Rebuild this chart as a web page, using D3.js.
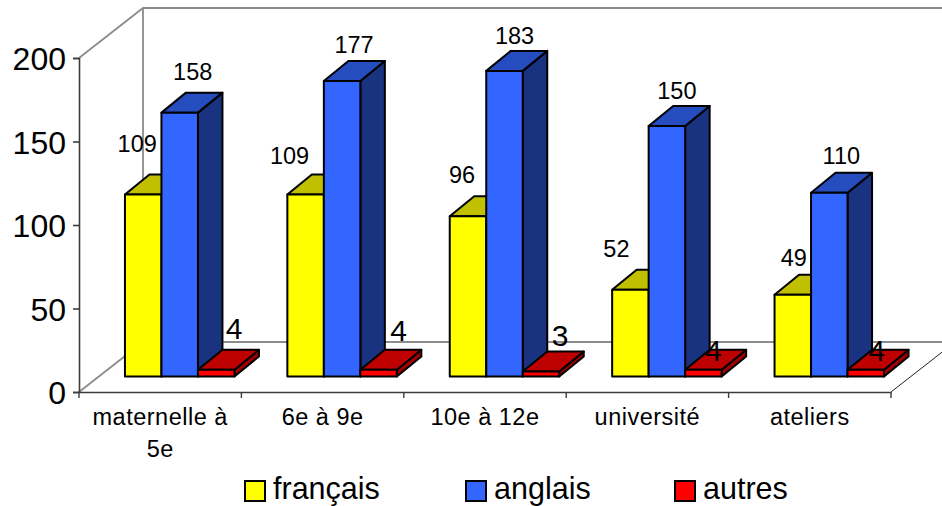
<!DOCTYPE html>
<html>
<head>
<meta charset="utf-8">
<script src="https://cdn.jsdelivr.net/npm/d3@7"></script>
<style>
  html, body { margin: 0; padding: 0; background: #fff; }
  svg { display: block; }
  text { font-family: "Liberation Sans", Arial, sans-serif; fill: #000; }
</style>
</head>
<body>
<svg id="chart" width="942" height="506"></svg>
<script>
var categories = ['maternelle à 5e', '6e à 9e', '10e à 12e', 'université', 'ateliers'];
var seriesNames = ['français', 'anglais', 'autres'];
var francais = [109, 109, 96, 52, 49];
var anglais = [158, 177, 183, 150, 110];
var autres = [4, 4, 3, 4, 4];
var yTicks = [0, 50, 100, 150, 200];

var seriesValues = [francais, anglais, autres];
var faces = [
    { front: '#ffff00', top: '#c0c000', side: '#808000' },
    { front: '#3366ff', top: '#264dbf', side: '#1a3380' },
    { front: '#ff0000', top: '#bf0000', side: '#a00000' }
];

var left = 79, right = 891, baseY = 392, topY = 58;
// oblique projection: back wall offset, and how far the bars sit inside it
var wallDx = 64, wallDy = 50;
var barShiftX = 19.5, barShiftY = 15.5;
var depthX = 24.5, depthY = 20;

var svg = d3.select('#chart');

var x = d3.scaleBand().domain(categories).range([left, right]);
var xSeries = d3.scaleBand().domain(seriesNames).range([0, 109.5]);
var y = d3.scaleLinear().domain([0, 200]).range([baseY, topY]);
var groupOffset = (x.bandwidth() - xSeries.range()[1]) / 2 + barShiftX;

// walls and floor
var walls = svg.append('g').attr('fill', 'none').attr('stroke', '#8c8c8c').attr('stroke-width', 1.8);
walls.append('path').attr('d', d3.line()([
    [left, topY], [left + wallDx, topY - wallDy], [942, topY - wallDy]
]));
walls.append('path').attr('d', d3.line()([
    [left + wallDx, topY - wallDy], [left + wallDx, baseY - wallDy], [942, baseY - wallDy]
]));
walls.append('path').attr('d', d3.line()([
    [left, baseY], [left + wallDx, baseY - wallDy]
]));
svg.append('path')
    .attr('d', d3.line()([[right, baseY], [right + wallDx, baseY - wallDy]]))
    .attr('fill', 'none').attr('stroke', '#222').attr('stroke-width', 1);

// value axis
var yAxis = svg.append('g')
    .attr('transform', 'translate(' + left + ',0)')
    .call(d3.axisLeft(y).tickValues(yTicks).tickSize(6).tickPadding(7).tickFormat(d3.format('d')));
yAxis.selectAll('path, line').attr('stroke', '#3c3c3c').attr('stroke-width', 1.6);
yAxis.selectAll('text').attr('font-size', 32).attr('dy', '0.36em');

// category axis: ticks sit on the band edges, labels on the band centres
var xAxis = svg.append('g')
    .attr('transform', 'translate(0,' + baseY + ')')
    .call(d3.axisBottom(x).tickSize(0).tickPadding(0));
xAxis.select('.domain').attr('stroke', '#3c3c3c').attr('stroke-width', 1.6);
xAxis.selectAll('text').remove();
var edges = categories.map(function(c) { return x(c); }).concat([right]);
xAxis.selectAll('line.edge')
    .data(edges)
    .enter().append('line')
    .attr('class', 'edge')
    .attr('x1', function(d) { return d; })
    .attr('x2', function(d) { return d; })
    .attr('y1', 0).attr('y2', 6)
    .attr('stroke', '#3c3c3c').attr('stroke-width', 1.4);

var catLabels = svg.append('g').attr('text-anchor', 'middle').attr('font-size', 23.5).attr('letter-spacing', 0.5);
categories.forEach(function(c) {
    var cx = x(c) + x.bandwidth() / 2;
    // the first label is too long for its band and wraps
    var lines = c === 'maternelle à 5e' ? ['maternelle à', '5e'] : [c];
    lines.forEach(function(line, i) {
        catLabels.append('text').attr('x', cx).attr('y', 425 + i * 32).text(line);
    });
});

// bars, left to right so nearer faces overlap correctly
var line = d3.line();
var bars = svg.append('g').attr('stroke', '#000').attr('stroke-width', 2).attr('stroke-linejoin', 'round');
categories.forEach(function(c, ci) {
    seriesNames.forEach(function(s, si) {
        var v = seriesValues[si][ci];
        var x0 = x(c) + groupOffset + xSeries(s);
        var x1 = x0 + xSeries.bandwidth();
        var yTop = y(v) - barShiftY;
        var yBot = y(0) - barShiftY;
        bars.append('path').attr('fill', faces[si].side).attr('d', line([
            [x1, yTop], [x1 + depthX, yTop - depthY], [x1 + depthX, yBot - depthY], [x1, yBot]
        ]) + 'Z');
        bars.append('path').attr('fill', faces[si].top).attr('d', line([
            [x0, yTop], [x0 + depthX, yTop - depthY], [x1 + depthX, yTop - depthY], [x1, yTop]
        ]) + 'Z');
        bars.append('path').attr('fill', faces[si].front).attr('d', line([
            [x0, yTop], [x1, yTop], [x1, yBot], [x0, yBot]
        ]) + 'Z');
    });
});

// hand-placed data labels: nudges relative to each bar's front top centre
var labelNudge = [
    [[-6, -42], [-16, -30], [-6, -33], [-14, -33], [1, -29]],
    [[13, -33], [12, -28], [10, -27], [10, -27], [12, -29]],
    [[18, -31], [20, -29], [19, -25], [10, -9], [11, -9]]
];
var labels = svg.append('g').attr('text-anchor', 'middle');
categories.forEach(function(c, ci) {
    seriesNames.forEach(function(s, si) {
        var v = seriesValues[si][ci];
        var cx = x(c) + groupOffset + xSeries(s) + xSeries.bandwidth() / 2;
        labels.append('text')
            .attr('x', cx + labelNudge[si][ci][0])
            .attr('y', y(v) - barShiftY + labelNudge[si][ci][1])
            .attr('font-size', si === 2 ? 30 : 23.5)
            .text(v);
    });
});

// legend
var legendX = d3.scaleOrdinal().domain(seriesNames).range([245, 466, 675]);
var legend = svg.append('g');
seriesNames.forEach(function(s, si) {
    legend.append('rect')
        .attr('x', legendX(s)).attr('y', 481).attr('width', 20).attr('height', 20)
        .attr('fill', faces[si].front).attr('stroke', '#000').attr('stroke-width', 2);
    legend.append('text')
        .attr('x', legendX(s) + 28).attr('y', 499)
        .attr('font-size', 30.5)
        .text(s);
});
</script>
</body>
</html>
